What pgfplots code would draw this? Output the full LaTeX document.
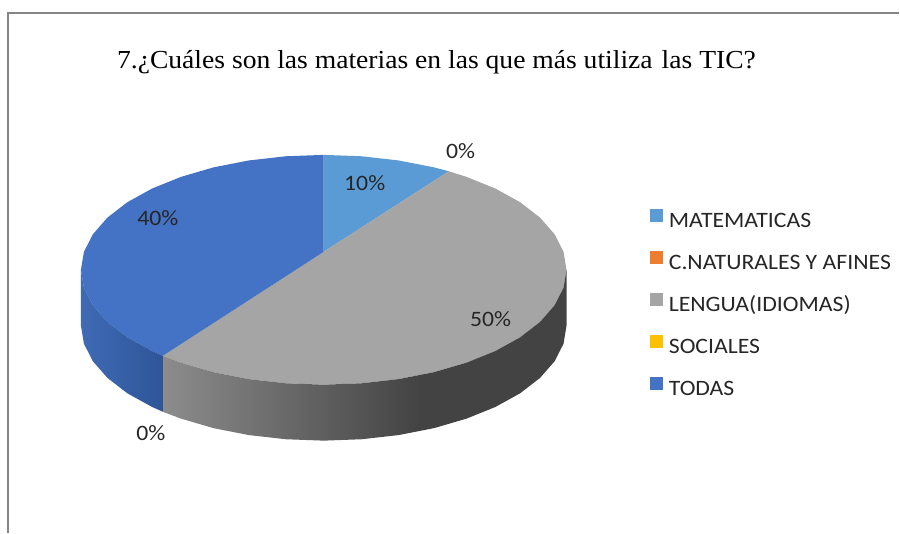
\documentclass[border=0pt]{standalone}
\usepackage{pgfplots}
\pgfplotsset{compat=1.18}
\usepackage{fontspec}
\setmainfont{Liberation Serif}[FakeStretch=1.062]
\newfontfamily\calibri{Carlito}[FakeStretch=1.08]
\definecolor{cMat}{HTML}{5B9BD5}
\definecolor{cNat}{HTML}{ED7D31}
\definecolor{cLen}{HTML}{A5A5A5}
\definecolor{cSoc}{HTML}{FFC000}
\definecolor{cTod}{HTML}{4472C4}
\definecolor{gsA}{HTML}{8C8C8C}
\definecolor{gsB}{HTML}{434343}
\definecolor{bsA}{HTML}{3F6BB5}
\definecolor{bsB}{HTML}{2E5598}
\definecolor{labelc}{HTML}{262626}
\definecolor{framec}{HTML}{858585}
\pgfdeclarehorizontalshading{grayside}{100bp}{color(0bp)=(gsA); color(25bp)=(gsA); color(56.8bp)=(gsB); color(100bp)=(gsB)}
\pgfdeclarehorizontalshading{blueside}{100bp}{color(0bp)=(bsA); color(25bp)=(bsA); color(75bp)=(bsB); color(100bp)=(bsB)}
\tikzset{dlab/.style={font=\calibri\fontsize{22}{26}\selectfont, text=labelc}}
\begin{document}
\begin{tikzpicture}
\begin{axis}[
  x=1pt, y=1pt, scale only axis,
  xmin=0, xmax=900, ymin=0, ymax=533, y dir=reverse,
  hide axis, clip=false,
  legend image code/.code={\fill[#1, draw=none] (0pt,0.5pt) rectangle (13pt,13.5pt); \path (19pt,0pt);},
  legend style={draw=none, fill=none, at={(axis cs:650,208.5)}, anchor=north west,
    inner sep=0pt, row sep=18.75pt, column sep=0pt,
    nodes={inner sep=0pt, text height=15pt, text depth=5pt, text=labelc,
      font=\calibri\fontsize{22}{26}\selectfont}},
  legend cell align=left,
]
% top face: MATEMATICAS 10%
\addplot[forget plot, draw=none, fill=cMat] coordinates {
 (324,252) (324,155) (362.0,156.4) (399.1,160.6) (434.3,167.5) (449.2,171.4)} -- cycle;
% top face: LENGUA(IDIOMAS) 50%
\addplot[forget plot, draw=none, fill=cLen] coordinates {
 (324,252) (449.2,171.4) (466.8,177.0) (495.8,188.7) (520.6,202.4) (540.5,217.8)
 (555.1,234.5) (564.0,252.0) (567.0,270.0) (564.0,288.0) (555.1,305.5) (540.5,322.2)
 (520.6,337.6) (495.8,351.3) (466.8,363.0) (434.3,372.5) (399.1,379.4) (362.0,383.6)
 (324,385) (286.0,383.6) (248.9,379.4) (213.7,372.5) (181.2,363.0) (163.0,356.1)} -- cycle;
% top face: TODAS 40%
\addplot[forget plot, draw=none, fill=cTod] coordinates {
 (324,252) (163.0,356.1) (152.2,351.3) (127.4,337.6) (107.5,322.2) (92.9,305.5)
 (84.0,288.0) (81.0,270.0) (84.0,252.0) (92.9,234.5) (107.5,217.8) (127.4,202.4)
 (152.2,188.7) (181.2,177.0) (213.7,167.5) (248.9,160.6) (286.0,156.4) (324,155)} -- cycle;
% side: LENGUA
\addplot[forget plot, draw=none, shade, shading=grayside] coordinates {
 (567,270) (564,288) (555.1,305.5) (540.5,322.2) (520.6,337.6) (495.8,351.3) (466.8,363)
 (434.3,372.5) (399.1,379.4) (362,383.6) (324,385) (286,383.6) (248.9,379.4) (213.7,372.5)
 (181.2,363) (163,356.1)
 (163,412.1) (181.2,419) (213.7,428.5) (248.9,435.4) (286,439.6) (324,441) (362,439.6)
 (399.1,435.4) (434.3,428.5) (466.8,419) (495.8,407.3) (520.6,393.6) (540.5,378.2)
 (555.1,361.5) (564,344) (567,326)} -- cycle;
% side: TODAS
\addplot[forget plot, draw=none, shade, shading=blueside] coordinates {
 (163,356.1) (152.2,351.3) (127.4,337.6) (107.5,322.2) (92.9,305.5) (84,288) (81,270)
 (81,326) (84,344) (92.9,361.5) (107.5,378.2) (127.4,393.6) (152.2,407.3) (163,412.1)} -- cycle;

\addlegendimage{fill=cMat}\addlegendentry{MATEMATICAS}
\addlegendimage{fill=cNat}\addlegendentry{C.NATURALES Y AFINES}
\addlegendimage{fill=cLen}\addlegendentry{LENGUA(IDIOMAS)}
\addlegendimage{fill=cSoc}\addlegendentry{SOCIALES}
\addlegendimage{fill=cTod}\addlegendentry{TODAS}

% data labels
\node[dlab] at (axis cs:365,183) {10\%};
\node[dlab] at (axis cs:461,151) {0\%};
\node[dlab] at (axis cs:491,319) {50\%};
\node[dlab] at (axis cs:158,218) {40\%};
\node[dlab] at (axis cs:151,433) {0\%};

% title
\node[anchor=base west, inner sep=0pt, text=black, font=\rmfamily\fontsize{26}{30}\selectfont] at (axis cs:117,69)
  {7.¿Cuáles son las materias en las que más utiliza\hspace{9pt}las TIC?};

% chart frame
\draw[framec, line width=1.5pt] (axis cs:8,533) -- (axis cs:8,13) -- (axis cs:900,13);
\path (axis cs:0,0) rectangle (axis cs:900,533);
\end{axis}
\end{tikzpicture}
\end{document}
